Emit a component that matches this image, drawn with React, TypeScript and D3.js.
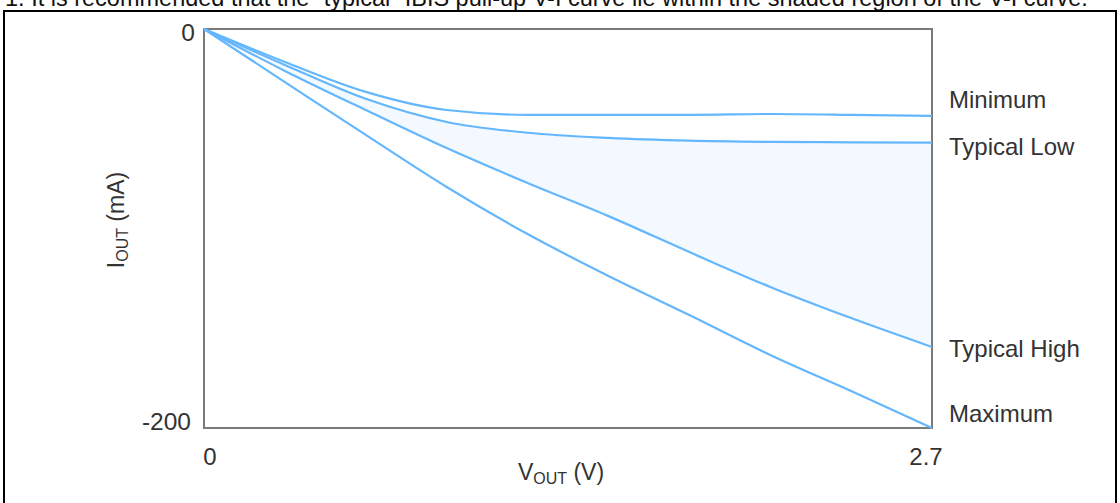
import React from "react";
import * as d3 from "d3";

const voltages = [0, 0.3, 0.6, 0.9, 1.2, 1.5, 1.8, 2.1, 2.4, 2.7];
const minimum = [0, -16.5, -31.5, -40.6, -43, -43, -43, -42.6, -43, -43.6];
const typicalLow = [0, -18, -35, -46.6, -52, -54.6, -56, -56.6, -56.8, -57];
const typicalHigh = [0, -21, -40.6, -59.7, -77.2, -93.8, -111.8, -129.3, -144.9, -159.4];
const maximum = [0, -26.6, -53.1, -79.2, -102.8, -123.8, -143.4, -163.4, -181.5, -200];
const seriesNames = ["Minimum", "Typical Low", "Typical High", "Maximum"];
const xTicks = [0, 2.7];
const yTicks = [0, -200];
const note = "1. It is recommended that the \u201ctypical\u201d IBIS pull-up V-I curve lie within the shaded region of the V-I curve.";

const W = 1120;
const H = 503;
const left = 204, right = 932, top = 29, bottom = 428;

export default function App() {
  const x = d3.scaleLinear().domain([0, 2.7]).range([left, right]);
  const y = d3.scaleLinear().domain([0, -200]).range([top, bottom]);
  const all = [minimum, typicalLow, typicalHigh, maximum];
  const line = d3
    .line<number>()
    .x((_, i) => x(voltages[i]))
    .y((d) => y(d))
    .curve(d3.curveMonotoneX);
  const area = d3
    .area<number>()
    .x((_, i) => x(voltages[i]))
    .y0((_, i) => y(typicalLow[i]))
    .y1((_, i) => y(typicalHigh[i]))
    .curve(d3.curveMonotoneX);
  const font = "'Liberation Sans', Arial, Helvetica, sans-serif";
  const txt = "#333";
  const blue = "#64b7fd";
  const labelOffsets = [-8, 12, 10, -6];
  return (
    <svg
      width={W}
      height={H}
      style={{ position: "absolute", left: 0, top: 0, background: "#fff" }}
      fontFamily={font}
    >
      <text x={5} y={6} fontSize={23.5} fill="#111">{note}</text>
      <rect x={4} y={11} width={1112} height={H} fill="none" stroke="#000" strokeWidth={2} />
      <path d={area(voltages.map((_, i) => typicalLow[i])) || ""} fill="#f4f9ff" />
      <rect x={left} y={top} width={right - left} height={bottom - top} fill="none" stroke="#7a7a7a" strokeWidth={2} />
      {all.map((s, k) => (
        <path key={k} d={line(s) || ""} fill="none" stroke={blue} strokeWidth={2.2} />
      ))}
      {all.map((s, k) => (
        <text key={k} x={right + 17} y={y(s[s.length - 1]) + labelOffsets[k]} fontSize={24} fill={txt}>
          {seriesNames[k]}
        </text>
      ))}
      {yTicks.map((t) => (
        <text key={t} x={left - (t === 0 ? 9 : 13)} y={y(t) + (t === 0 ? 12 : 2)} fontSize={24.5} fill={txt} textAnchor="end">
          {t}
        </text>
      ))}
      {xTicks.map((t) => (
        <text key={t} x={x(t) + (t === 0 ? 6 : -6)} y={465} fontSize={24} fill={txt} textAnchor="middle">
          {t}
        </text>
      ))}
      <text x={561} y={480} fontSize={23} fill={txt} textAnchor="middle">
        V<tspan fontSize={16} dy={4}>OUT</tspan>
        <tspan dy={-4}> (V)</tspan>
      </text>
      <text transform="translate(124,220) rotate(-90)" fontSize={23} fill={txt} textAnchor="middle">
        I<tspan fontSize={16} dy={4}>OUT</tspan>
        <tspan dy={-4}> (mA)</tspan>
      </text>
    </svg>
  );
}
